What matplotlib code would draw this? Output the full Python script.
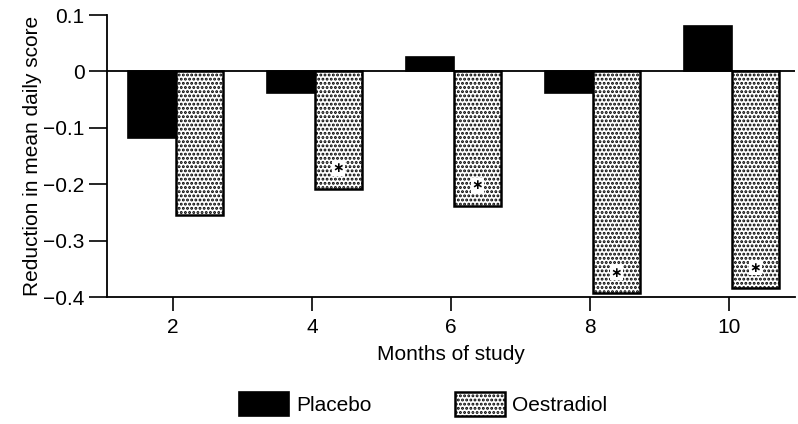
import matplotlib
matplotlib.use("Agg")
import matplotlib.pyplot as plt
import numpy as np

plt.rcParams['font.family'] = ['Liberation Sans', 'DejaVu Sans']
plt.rcParams['hatch.linewidth'] = 1.4

# Data
months = [2, 4, 6, 8, 10]
placebo = [-0.118, -0.038, 0.026, -0.038, 0.080]
oestradiol = [-0.254, -0.208, -0.238, -0.393, -0.384]
significant = [False, True, True, True, True]
y_ticks = [0.1, 0, -0.1, -0.2, -0.3, -0.4]
y_tick_labels = ["0.1", "0", "\u22120.1", "\u22120.2", "\u22120.3", "\u22120.4"]

BAR_W = 0.68
SHIFT = 0.04
FS = 15

fig = plt.figure(figsize=(7.98, 4.24), dpi=100)
ax = fig.add_axes([0.134, 0.2995, 0.862, 0.665])

x = np.array(months, dtype=float) + SHIFT
b1 = ax.bar(x - BAR_W / 2, placebo, BAR_W, color="black", edgecolor="black",
            linewidth=1.2, label="Placebo")
b2 = ax.bar(x + BAR_W / 2, oestradiol, BAR_W, color="white", edgecolor="black",
            hatch="....", linewidth=1.8, label="Oestradiol")

# asterisks for significant months
for xi, val, sig in zip(x, oestradiol, significant):
    if sig:
        ax.text(xi + BAR_W / 2, val + 0.036, "\u2217", ha="center", va="center",
                fontsize=10, fontweight="bold", family="DejaVu Sans",
                color="black", zorder=5,
                bbox=dict(boxstyle="square,pad=0.05", fc="white", ec="none"))

ax.axhline(0, color="black", lw=1.3, zorder=3)

ax.set_xlim(1.05, 10.95)
ax.set_ylim(-0.4, 0.1)
ax.set_xticks(months)
ax.set_xticklabels([str(m) for m in months], fontsize=FS)
ax.set_yticks(y_ticks)
ax.set_yticklabels(y_tick_labels, fontsize=FS)
ax.tick_params(axis="x", direction="out", length=10, width=1.2, pad=5)
ax.tick_params(axis="y", direction="out", length=13, width=1.2, pad=3)

for s in ["top", "right"]:
    ax.spines[s].set_visible(False)
for s in ["left", "bottom"]:
    ax.spines[s].set_linewidth(1.3)

ax.set_ylabel("Reduction in mean daily score", fontsize=FS, labelpad=1)
ax.set_xlabel("Months of study", fontsize=FS, labelpad=6)

fig.legend(handles=[b1, b2], loc="center", bbox_to_anchor=(0.53, 0.047),
           ncol=2, frameon=False, fontsize=FS, handlelength=2.4,
           handleheight=1.35, columnspacing=4.0, handletextpad=0.35,
           borderpad=0.0)

fig.savefig("out.png", dpi=100)
